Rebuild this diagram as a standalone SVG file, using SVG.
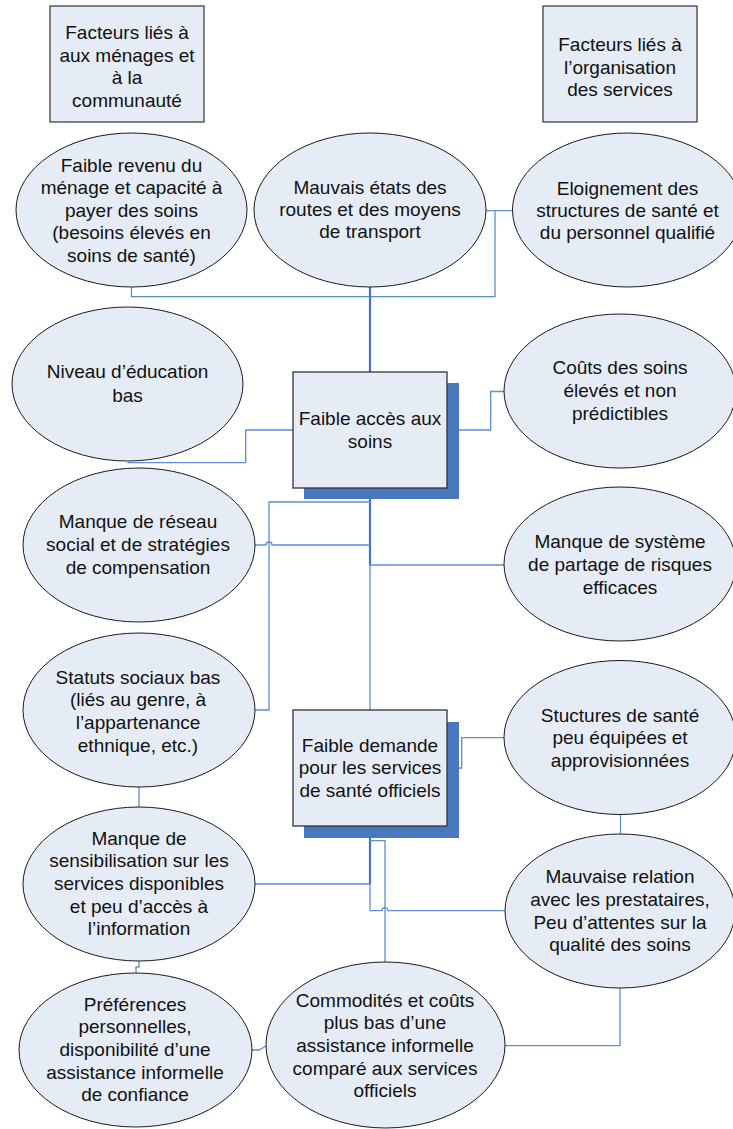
<svg xmlns="http://www.w3.org/2000/svg" width="733" height="1129" viewBox="0 0 733 1129">
<style>
  .bg{fill:#ffffff}
  .hdr{fill:#E6ECF6;stroke:#333333;stroke-width:1.2}
  .ell{fill:#E6ECF6;stroke:#1a1a1a;stroke-width:1}
  .box{fill:#E6ECF6;stroke:#333333;stroke-width:1.3}
  .shadow{fill:#4A78BF}
  .c{fill:none;stroke:#5F8DD0;stroke-width:1.3}
  .ct{fill:none;stroke:#4472C4;stroke-width:2.2}
  text{font-family:"Liberation Sans",Arial,sans-serif;font-size:19px;fill:#111111;text-anchor:middle}
</style>
<rect class="bg" x="0" y="0" width="733" height="1129"/>

<g id="connectors">
  <path class="c" d="M131.5,287 V296.7 H495 V210.7 H512.5"/>
  <path class="c" d="M486,210.7 H495"/>
  <path class="c" d="M370,287 V372"/>
  <path class="ct" d="M370,287 V372"/>
  <path class="c" d="M293,430 H245.7 V462.7 H127.5"/>
  <path class="c" d="M447,430 H490.7 V391.5 H504"/>
  <path class="c" d="M370,488 V710"/>
  <path class="ct" d="M370,488 V565"/>
  <path class="c" d="M370,502 H269 V710 H255"/>
  <path class="c" d="M255,545 H266 a3,3 0 0 1 6,0 H370"/>
  <path class="c" d="M370,565 H504"/>
  <path class="c" d="M447,768 H461.7 V737.7 H504"/>
  <path class="c" d="M620.5,814.5 V834"/>
  <path class="c" d="M139,787 V807"/>
  <path class="c" d="M370,826 V910.7"/>
  <path class="ct" d="M370,826 V884"/>
  <path class="c" d="M370,884 H255"/>
  <path class="c" d="M370,910.7 H382 a3,3 0 0 1 6,0 H505"/>
  <path class="c" d="M370,840.7 H385 V962.7"/>
  <path class="c" d="M620,988 V1045.7 H505"/>
  <path class="c" d="M139,961 V967 H136 V973"/>
  <path class="c" d="M252,1050 H259 L266,1046"/>
</g>

<g id="hdr-menages">
  <rect class="hdr" x="50" y="6" width="154" height="116"/>
  <text x="127" y="39">Facteurs liés à</text>
  <text x="127" y="61.5">aux ménages et</text>
  <text x="127" y="84">à la</text>
  <text x="127" y="106.5">communauté</text>
</g>

<g id="hdr-organisation">
  <rect class="hdr" x="543" y="6" width="154" height="116"/>
  <text x="620" y="51">Facteurs liés à</text>
  <text x="620" y="73.7">l’organisation</text>
  <text x="620" y="96.4">des services</text>
</g>

<g id="n-revenu">
  <ellipse class="ell" cx="131.5" cy="210" rx="115.5" ry="77"/>
  <text x="131.5" y="171.5">Faible revenu du</text>
  <text x="131.5" y="194.2">ménage et capacité à</text>
  <text x="131.5" y="216.5">payer des soins</text>
  <text x="131.5" y="239.2">(besoins élevés en</text>
  <text x="131.5" y="261.8">soins de santé)</text>
</g>

<g id="n-routes">
  <ellipse class="ell" cx="370" cy="210" rx="116" ry="77"/>
  <text x="370" y="193.8">Mauvais états des</text>
  <text x="370" y="216">routes et des moyens</text>
  <text x="370" y="238.3">de transport</text>
</g>

<g id="n-eloignement">
  <ellipse class="ell" cx="627.5" cy="210" rx="115" ry="77"/>
  <text x="627.5" y="194.8">Eloignement des</text>
  <text x="627.5" y="216.8">structures de santé et</text>
  <text x="627.5" y="239">du personnel qualifié</text>
</g>

<g id="n-education">
  <ellipse class="ell" cx="127.5" cy="384" rx="115.5" ry="77"/>
  <text x="127.5" y="378.2">Niveau d’éducation</text>
  <text x="127.5" y="401.5">bas</text>
</g>

<g id="n-acces">
  <rect class="shadow" x="304" y="383" width="155" height="116"/>
  <rect class="box" x="293" y="372" width="154" height="116"/>
  <text x="370" y="424.8">Faible accès aux</text>
  <text x="370" y="447.5">soins</text>
</g>

<g id="n-couts">
  <ellipse class="ell" cx="620" cy="391" rx="116" ry="77"/>
  <text x="620" y="374.2">Coûts des soins</text>
  <text x="620" y="396.8">élevés et non</text>
  <text x="620" y="419.5">prédictibles</text>
</g>

<g id="n-reseau">
  <ellipse class="ell" cx="139" cy="545" rx="116" ry="77"/>
  <text x="138" y="528.2">Manque de réseau</text>
  <text x="138" y="551">social et de stratégies</text>
  <text x="138" y="573.8">de compensation</text>
</g>

<g id="n-risques">
  <ellipse class="ell" cx="620" cy="564" rx="116" ry="77"/>
  <text x="620" y="548.2">Manque de système</text>
  <text x="620" y="571">de partage de risques</text>
  <text x="620" y="593.8">efficaces</text>
</g>

<g id="n-statuts">
  <ellipse class="ell" cx="139" cy="710" rx="116" ry="77"/>
  <text x="138" y="683.5">Statuts sociaux bas</text>
  <text x="138" y="706.2">(liés au genre, à</text>
  <text x="138" y="728.9">l’appartenance</text>
  <text x="138" y="751.6">ethnique, etc.)</text>
</g>

<g id="n-demande">
  <rect class="shadow" x="304" y="722" width="155" height="116"/>
  <rect class="box" x="293" y="710" width="154" height="116"/>
  <text x="370" y="752.2">Faible demande</text>
  <text x="370" y="774.4">pour les services</text>
  <text x="370" y="796.6">de santé officiels</text>
</g>

<g id="n-structures">
  <ellipse class="ell" cx="620" cy="737.5" rx="116" ry="77"/>
  <text x="620" y="721.5">Stuctures de santé</text>
  <text x="620" y="744.4">peu équipées et</text>
  <text x="620" y="767">approvisionnées</text>
</g>

<g id="n-sensibilisation">
  <ellipse class="ell" cx="139" cy="884" rx="116" ry="77"/>
  <text x="139" y="844.5">Manque de</text>
  <text x="139" y="867.2">sensibilisation sur les</text>
  <text x="139" y="889.9">services disponibles</text>
  <text x="139" y="912.6">et peu d’accès à</text>
  <text x="139" y="935.3">l’information</text>
</g>

<g id="n-relation">
  <ellipse class="ell" cx="620" cy="911" rx="115" ry="77"/>
  <text x="620" y="883.2">Mauvaise relation</text>
  <text x="620" y="905.9">avec les prestataires,</text>
  <text x="620" y="928.6">Peu d’attentes sur la</text>
  <text x="620" y="951.3">qualité des soins</text>
</g>

<g id="n-preferences">
  <ellipse class="ell" cx="135.5" cy="1050" rx="116.5" ry="77"/>
  <text x="135" y="1010.5">Préférences</text>
  <text x="135" y="1033.2">personnelles,</text>
  <text x="135" y="1055.9">disponibilité d’une</text>
  <text x="135" y="1078.6">assistance informelle</text>
  <text x="135" y="1101.3">de confiance</text>
</g>

<g id="n-commodites">
  <ellipse class="ell" cx="385.5" cy="1045" rx="119.5" ry="83"/>
  <text x="385" y="1006.5">Commodités et coûts</text>
  <text x="385" y="1029.2">plus bas d’une</text>
  <text x="385" y="1051.9">assistance informelle</text>
  <text x="385" y="1074.6">comparé aux services</text>
  <text x="385" y="1097.3">officiels</text>
</g>
</svg>
